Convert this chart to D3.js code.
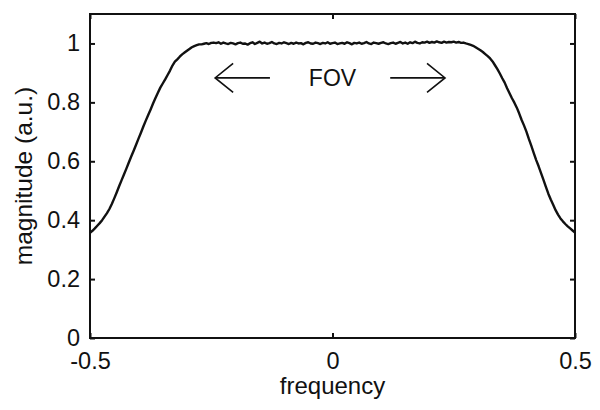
<!DOCTYPE html>
<html>
<head>
<meta charset="utf-8">
<script src="https://cdn.jsdelivr.net/npm/d3@7"></script>
<style>
  html, body { margin: 0; padding: 0; background: #fff; }
  svg { display: block; }
  text { font-family: "Liberation Sans", Arial, Helvetica, sans-serif; fill: #111; }
</style>
</head>
<body>
<svg id="chart" width="600" height="410"></svg>
<script>
// ---- data ----
const xTicks = [-0.5, 0, 0.5];
const xTickLabels = ["-0.5", "0", "0.5"];
const yTicks = [0, 0.2, 0.4, 0.6, 0.8, 1];
const yTickLabels = ["0", "0.2", "0.4", "0.6", "0.8", "1"];
const xLabel = "frequency";
const yLabel = "magnitude (a.u.)";
const annotation = "FOV";

// magnitude sampled every 0.005 from -0.5 to 0.5
const leftEdge = [
  0.357, 0.364, 0.372, 0.381, 0.390, 0.400, 0.412, 0.424, 0.438, 0.455,
  0.474, 0.494, 0.515, 0.535, 0.555, 0.575, 0.596, 0.616, 0.636, 0.656,
  0.677, 0.697, 0.718, 0.738, 0.757, 0.776, 0.796, 0.815, 0.833, 0.850,
  0.864, 0.878, 0.893, 0.908, 0.925, 0.938, 0.946, 0.955, 0.963, 0.969,
  0.975, 0.981, 0.987, 0.991, 0.994, 0.997, 0.997, 0.999, 1.001, 0.998,
  1.002, 1.003
];
const plateau = [
  1.001, 1.004, 0.999, 1.003, 1.000, 0.998, 1.002, 1.000, 0.997, 1.001,
  1.003, 0.999, 1.000, 0.996, 1.001, 1.004, 0.998, 1.002, 1.006, 1.000,
  1.003, 0.999, 1.001, 1.005, 1.000, 0.998, 1.002, 1.000, 1.004, 1.001,
  0.998, 1.002, 0.999, 1.003, 1.000, 1.001, 0.997, 1.002, 1.004, 1.000,
  0.999, 1.003, 1.001, 0.998, 1.002, 1.000, 1.004, 0.999, 1.001, 1.003,
  0.998, 1.000, 1.002, 0.999, 1.004, 1.001, 0.997, 1.002, 1.000, 1.003,
  0.999, 1.001, 1.005, 1.000, 0.998, 1.003, 1.001, 0.999, 1.002, 1.004,
  1.000, 0.998, 1.001, 1.003, 0.999, 1.002, 1.005, 1.000, 1.003, 0.999,
  1.004, 1.001, 1.006, 1.002, 1.000, 1.004, 1.003, 1.006, 1.002, 1.005,
  1.003, 1.007, 1.004, 1.002, 1.006, 1.003, 1.005
];
const rightEdge = [
  1.004, 1.006, 1.003, 1.005, 1.002, 1.003, 1.000, 0.998, 0.995, 0.992,
  0.987, 0.982, 0.977, 0.971, 0.964, 0.957, 0.949, 0.939, 0.926, 0.913,
  0.898, 0.882, 0.867, 0.848, 0.831, 0.814, 0.799, 0.782, 0.762, 0.740,
  0.721, 0.700, 0.675, 0.652, 0.628, 0.604, 0.583, 0.560, 0.537, 0.513,
  0.490, 0.470, 0.452, 0.434, 0.419, 0.406, 0.396, 0.387, 0.379, 0.372,
  0.365, 0.358
];
const magnitude = leftEdge.concat(plateau, rightEdge);
const frequency = magnitude.map((_, i) => -0.5 + i * 0.005);

// FOV arrows (data coordinates)
const arrowLeft  = { from: -0.129, to: -0.242, y: 0.883 };
const arrowRight = { from: 0.119, to: 0.232, y: 0.883 };

// ---- layout ----
const W = 600, H = 410;
const m = { left: 90, top: 14, right: 25, bottom: 72 };
const iw = W - m.left - m.right;   // 485
const ih = H - m.top - m.bottom;   // 324

const svg = d3.select("#chart");
const x = d3.scaleLinear().domain([-0.5, 0.5]).range([m.left, m.left + iw]);
const y = d3.scaleLinear().domain([0, 1.1]).range([m.top + ih, m.top]);

const tickLen = 5;
const fs = 23.5;

// axes (inward ticks)
const gL = svg.append("g").attr("transform", `translate(${m.left},0)`)
  .call(d3.axisLeft(y).tickValues(yTicks).tickSizeInner(-tickLen).tickSizeOuter(0)
    .tickFormat((d, i) => yTickLabels[i]).tickPadding(10));
const gR = svg.append("g").attr("transform", `translate(${m.left + iw},0)`)
  .call(d3.axisRight(y).tickValues(yTicks).tickSizeInner(-tickLen).tickSizeOuter(0).tickFormat(""));
const gB = svg.append("g").attr("transform", `translate(0,${m.top + ih})`)
  .call(d3.axisBottom(x).tickValues(xTicks).tickSizeInner(-tickLen).tickSizeOuter(0)
    .tickFormat((d, i) => xTickLabels[i]).tickPadding(14));
const gT = svg.append("g").attr("transform", `translate(0,${m.top})`)
  .call(d3.axisTop(x).tickValues(xTicks).tickSizeInner(-tickLen).tickSizeOuter(0).tickFormat(""));

[gL, gR, gB, gT].forEach(g => {
  g.select(".domain").remove();
  g.selectAll(".tick line").attr("stroke", "#111").attr("stroke-width", 2);
  g.selectAll(".tick text").attr("font-size", fs).attr("fill", "#111")
    .style("font-family", '"Liberation Sans", Arial, sans-serif');
});

// box
svg.append("rect")
  .attr("x", x(-0.5)).attr("y", y(1.1))
  .attr("width", x(0.5) - x(-0.5)).attr("height", y(0) - y(1.1))
  .attr("fill", "none").attr("stroke", "#111").attr("stroke-width", 2);

// curve
const pts = frequency.map((f, i) => [f, magnitude[i]]);
svg.append("path")
  .datum(pts)
  .attr("fill", "none").attr("stroke", "#111").attr("stroke-width", 2.4)
  .attr("stroke-linejoin", "round")
  .attr("d", d3.line().x(d => x(d[0])).y(d => y(d[1])));

// arrows
function arrow(a) {
  const dir = Math.sign(a.to - a.from);
  const tipX = x(a.to), tipY = y(a.y);
  svg.append("line")
    .attr("x1", x(a.from)).attr("y1", tipY).attr("x2", tipX).attr("y2", tipY)
    .attr("stroke", "#111").attr("stroke-width", 1.6);
  const hx = tipX - dir * 18, hy = 14.5;
  svg.append("path")
    .attr("d", `M${hx},${tipY - hy}L${tipX},${tipY}L${hx},${tipY + hy}`)
    .attr("fill", "none").attr("stroke", "#111").attr("stroke-width", 1.6);
}
arrow(arrowLeft);
arrow(arrowRight);

svg.append("text")
  .attr("x", x(0)).attr("y", y(0.883) + 8.5)
  .attr("text-anchor", "middle").attr("font-size", 23)
  .text(annotation);

// axis labels
svg.append("text")
  .attr("x", x(0)).attr("y", 394)
  .attr("text-anchor", "middle").attr("font-size", 24)
  .text(xLabel);
svg.append("text")
  .attr("transform", `translate(32,${(y(0) + y(1.1)) / 2}) rotate(-90)`)
  .attr("text-anchor", "middle").attr("font-size", 24.5)
  .text(yLabel);
</script>
</body>
</html>
